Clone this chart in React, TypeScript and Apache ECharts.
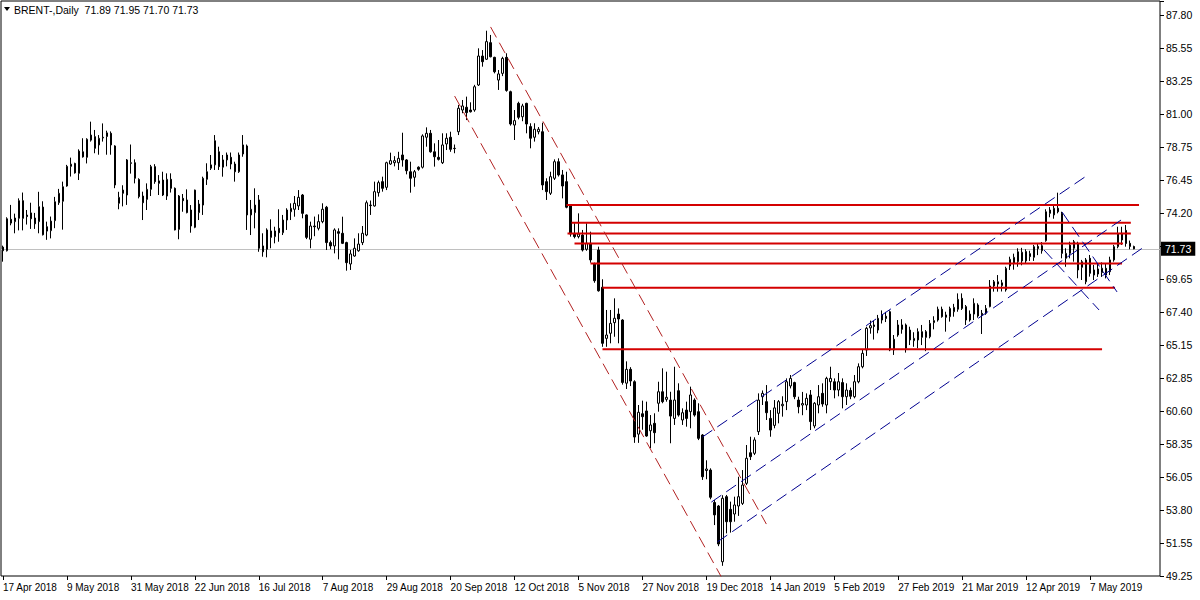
import React, { useEffect, useRef } from "react";
import * as echarts from "echarts";

// ---- Axis labels ----
const DATE_LABELS = [
  "17 Apr 2018", "9 May 2018", "31 May 2018", "22 Jun 2018", "16 Jul 2018", "7 Aug 2018",
  "29 Aug 2018", "20 Sep 2018", "12 Oct 2018", "5 Nov 2018", "27 Nov 2018", "19 Dec 2018",
  "14 Jan 2019", "5 Feb 2019", "27 Feb 2019", "21 Mar 2019", "12 Apr 2019", "7 May 2019",
];
const LABEL_EVERY = 16; // one date label every 16 bars
const SLOT_COUNT = 290; // bars + empty right shift

const PRICE_LABELS = [
  "49.25", "51.55", "53.80", "56.05", "58.35", "60.60", "62.85", "65.15", "67.40",
  "69.65", "", "74.20", "76.45", "78.75", "81.00", "83.25", "85.55", "87.80",
];
const PRICE_MIN = 49.25;
const PRICE_STEP = 2.267647;
const VISIBLE_STEPS = 17.4242;

const SYMBOL = "BRENT-,Daily";
const CURRENT_PRICE = 71.73;

// ---- Daily candles: [open, high, low, close] ----
const CANDLES: [number, number, number, number][] = [
  [71.85, 71.95, 70.85, 71.6], [71.6, 73.9, 71.55, 73.8], [73.76, 74.75, 73.35, 73.5], [73.6, 74.15, 72.8, 73.85],
  [73.83, 75.2, 73.0, 75.04], [75.04, 75.6, 73.0, 73.83], [74.05, 74.4, 73.4, 73.95], [74.2, 74.9, 73.1, 73.8],
  [73.85, 74.2, 73.1, 73.45], [73.6, 75.65, 72.8, 74.63], [74.6, 75.0, 72.65, 72.7], [73.25, 73.6, 72.35, 72.95],
  [72.98, 73.95, 72.45, 73.64], [73.67, 75.3, 73.15, 74.97], [74.9, 75.85, 74.75, 75.55], [75.0, 76.35, 73.05, 76.0],
  [76.05, 77.5, 76.0, 77.4], [77.4, 78.0, 76.7, 77.55], [77.6, 77.65, 76.9, 76.95], [76.92, 78.57, 76.46, 78.45],
  [78.4, 79.33, 78.0, 78.05], [78.02, 79.33, 77.6, 79.26], [79.2, 80.47, 79.1, 79.55], [79.44, 79.9, 78.3, 78.64],
  [78.87, 79.55, 78.2, 79.33], [79.35, 80.35, 79.1, 79.4], [79.45, 79.85, 78.2, 79.7], [79.67, 79.8, 78.2, 78.87],
  [78.8, 78.85, 75.9, 76.12], [74.86, 75.65, 74.45, 75.27], [75.77, 76.1, 74.65, 75.55], [75.43, 77.9, 74.75, 77.84],
  [77.6, 78.9, 76.9, 77.65], [77.65, 77.88, 76.23, 76.58], [76.5, 76.58, 75.2, 75.32], [75.36, 75.66, 73.71, 74.9],
  [75.13, 76.23, 74.4, 75.82], [75.82, 77.5, 75.36, 77.38], [77.38, 77.55, 76.2, 76.35], [76.23, 76.8, 75.43, 76.4],
  [76.46, 77.03, 75.36, 75.43], [75.36, 76.92, 75.09, 76.51], [76.51, 76.92, 75.6, 75.89], [75.89, 75.95, 73.0, 73.03],
  [73.07, 75.43, 72.39, 75.36], [75.2, 75.5, 74.28, 75.04], [75.09, 75.82, 74.17, 74.22], [74.4, 74.74, 72.84, 73.3],
  [73.21, 75.8, 73.15, 75.77], [74.22, 75.09, 73.71, 74.81], [74.74, 76.69, 74.06, 76.58], [76.51, 77.61, 76.12, 77.03],
  [77.27, 78.18, 77.15, 77.5], [77.5, 79.55, 77.15, 79.16], [78.4, 78.75, 77.15, 77.38], [77.34, 78.18, 76.69, 77.84],
  [77.84, 78.35, 77.4, 78.18], [78.02, 78.35, 77.2, 77.56], [77.56, 77.72, 76.35, 77.03], [77.03, 78.35, 76.95, 78.18],
  [78.25, 79.55, 78.06, 78.87], [78.8, 78.9, 73.03, 74.06], [74.06, 75.09, 72.68, 74.45], [74.22, 75.89, 73.14, 74.74],
  [75.09, 75.43, 71.53, 71.77], [71.93, 72.8, 71.19, 71.53], [71.7, 73.14, 71.15, 73.03], [72.96, 73.76, 71.77, 72.52],
  [72.57, 73.25, 72.11, 72.96], [73.14, 74.45, 72.22, 72.84], [72.84, 74.06, 72.68, 73.71], [73.71, 74.52, 73.03, 74.4],
  [74.28, 74.86, 73.71, 74.52], [74.45, 75.36, 73.94, 74.86], [74.68, 75.77, 74.4, 75.27], [75.43, 75.5, 73.83, 74.17],
  [74.06, 74.1, 72.4, 72.52], [72.39, 73.6, 71.77, 73.3], [73.3, 73.95, 72.6, 73.25], [73.14, 74.1, 73.0, 73.6],
  [73.6, 74.86, 73.49, 74.45], [74.59, 74.68, 71.65, 72.16], [72.16, 72.3, 71.7, 71.93], [71.93, 73.14, 71.42, 73.03],
  [72.91, 73.14, 71.01, 72.8], [72.8, 73.94, 72.06, 72.11], [72.16, 72.22, 70.23, 70.78], [70.69, 71.65, 70.28, 71.38],
  [71.24, 72.45, 71.19, 71.77], [71.6, 72.8, 71.53, 72.06], [72.16, 73.3, 71.99, 72.8], [72.68, 75.05, 72.6, 74.9],
  [74.74, 75.05, 74.06, 74.7], [74.68, 76.35, 74.63, 75.66], [75.59, 76.42, 75.32, 76.28], [76.35, 76.69, 75.66, 75.89],
  [75.96, 77.72, 75.77, 77.65], [77.56, 78.34, 77.5, 77.79], [77.65, 78.1, 77.4, 77.79], [77.65, 78.4, 77.15, 77.95],
  [78.18, 79.71, 77.38, 77.84], [77.84, 77.9, 76.85, 77.1], [77.03, 77.72, 75.59, 76.58], [76.65, 77.15, 76.0, 77.03],
  [77.34, 77.4, 77.1, 77.2], [77.34, 79.6, 77.25, 79.49], [79.4, 80.08, 78.75, 79.67], [79.67, 79.9, 78.34, 78.4],
  [78.4, 78.98, 77.38, 78.06], [78.02, 79.21, 77.8, 77.88], [77.65, 79.67, 77.56, 78.87], [78.94, 79.67, 78.52, 79.33],
  [79.4, 79.78, 78.4, 78.57], [78.64, 78.9, 78.3, 78.62], [79.78, 81.62, 79.55, 81.39], [81.27, 81.96, 81.05, 81.55],
  [81.46, 82.19, 80.58, 81.09], [81.27, 81.8, 81.1, 81.15], [81.27, 83.0, 81.15, 82.87], [82.99, 85.51, 82.92, 84.98],
  [84.98, 85.39, 84.25, 84.59], [84.76, 86.72, 84.71, 85.97], [85.9, 86.43, 84.89, 84.93], [84.89, 84.93, 83.79, 83.9],
  [83.33, 84.02, 82.65, 83.75], [83.79, 84.93, 83.6, 84.82], [84.89, 85.17, 82.53, 82.62], [82.53, 82.6, 80.2, 80.31],
  [80.24, 81.27, 79.21, 80.54], [81.73, 81.84, 80.63, 80.77], [80.81, 81.7, 80.5, 81.55], [81.73, 81.77, 79.67, 80.31],
  [80.13, 80.36, 78.64, 79.33], [79.4, 80.36, 79.1, 79.95], [79.78, 80.1, 79.6, 79.95], [79.78, 80.4, 75.77, 76.12],
  [76.35, 76.58, 75.09, 75.66], [75.55, 77.03, 75.43, 76.69], [76.58, 77.88, 76.46, 77.72], [77.72, 77.95, 76.7, 76.81],
  [76.81, 77.15, 75.2, 76.05], [76.35, 77.03, 74.52, 74.59], [74.68, 74.74, 72.57, 72.75], [72.75, 73.49, 72.45, 72.57],
  [72.57, 74.17, 72.45, 72.75], [72.68, 73.03, 71.55, 71.65], [71.7, 73.49, 71.6, 72.11], [72.11, 72.91, 70.78, 70.97],
  [70.69, 70.78, 69.4, 69.54], [71.65, 71.88, 68.79, 68.85], [69.09, 69.64, 65.0, 65.24], [65.58, 67.53, 65.0, 65.81],
  [65.93, 67.53, 65.24, 66.61], [66.66, 68.33, 65.69, 66.96], [67.25, 67.64, 65.24, 66.91], [66.84, 66.9, 62.4, 62.55],
  [62.5, 64.0, 62.1, 63.45], [63.45, 63.6, 62.3, 62.65], [62.6, 62.7, 58.4, 58.8], [59.0, 61.0, 58.4, 60.5],
  [60.4, 61.3, 59.3, 60.2], [60.59, 61.23, 58.82, 58.87], [59.23, 60.31, 58.03, 59.63], [59.74, 60.43, 58.37, 59.1],
  [61.12, 62.6, 60.54, 61.91], [61.91, 63.52, 61.12, 61.23], [61.39, 63.29, 61.23, 61.53], [61.34, 61.91, 58.37, 60.24],
  [60.08, 63.63, 59.63, 61.34], [61.98, 62.49, 60.2, 60.31], [59.97, 60.77, 59.63, 60.47], [60.65, 61.23, 59.51, 60.08],
  [60.54, 62.26, 59.4, 61.69], [61.34, 61.46, 60.2, 60.31], [60.54, 61.12, 58.59, 58.71], [58.94, 59.0, 55.85, 56.07],
  [56.5, 57.2, 55.9, 56.6], [56.53, 56.65, 54.52, 54.66], [54.3, 54.47, 52.75, 53.45], [54.06, 54.13, 51.3, 51.45],
  [50.23, 54.8, 49.95, 54.59], [54.7, 54.82, 52.18, 52.98], [53.83, 54.36, 52.23, 52.98], [53.51, 54.7, 52.98, 54.13],
  [54.06, 56.07, 53.38, 54.7], [54.24, 56.53, 54.13, 55.5], [55.62, 58.25, 55.5, 57.34], [57.72, 58.82, 57.22, 57.45],
  [57.68, 58.78, 57.56, 58.6], [59.17, 61.8, 58.94, 61.34], [61.57, 62.0, 61.0, 61.8], [61.23, 62.37, 59.97, 60.47],
  [60.08, 60.65, 58.82, 59.28], [59.6, 61.34, 59.4, 60.8], [60.43, 61.34, 59.74, 61.23], [60.95, 61.6, 60.2, 61.05],
  [61.23, 62.83, 60.65, 62.6], [62.31, 63.06, 62.14, 62.83], [62.54, 62.6, 61.4, 61.57], [61.34, 61.57, 60.43, 60.88],
  [61.0, 61.9, 60.3, 61.1], [61.0, 61.8, 60.65, 61.46], [61.69, 62.03, 59.28, 59.86], [59.56, 61.2, 59.4, 61.12],
  [61.0, 62.37, 60.43, 61.57], [61.8, 62.49, 60.88, 61.07], [61.0, 62.94, 60.43, 62.83], [62.6, 63.63, 62.03, 62.83],
  [62.6, 62.83, 61.46, 62.03], [62.03, 63.2, 61.6, 62.6], [62.54, 62.83, 60.77, 61.57], [61.57, 62.49, 61.0, 62.03],
  [62.0, 62.2, 61.4, 61.6], [61.57, 63.06, 61.46, 62.6], [62.6, 63.86, 62.49, 63.63], [63.63, 64.78, 63.52, 64.55],
  [64.78, 66.38, 64.37, 66.27], [66.3, 66.8, 65.9, 66.45], [66.5, 66.8, 65.5, 66.4], [66.15, 67.19, 65.93, 66.96],
  [66.84, 67.5, 66.6, 67.19], [67.1, 67.4, 66.7, 66.95], [67.41, 67.5, 64.7, 64.78], [64.78, 65.81, 64.44, 65.52],
  [65.81, 66.84, 65.69, 66.5], [66.5, 66.9, 65.9, 66.2], [66.5, 66.6, 64.6, 64.9], [65.47, 66.38, 65.12, 66.15],
  [65.42, 66.0, 65.0, 65.58], [65.47, 66.27, 64.9, 66.04], [65.65, 66.5, 65.12, 66.04], [66.04, 66.15, 64.7, 65.65],
  [65.69, 66.84, 65.58, 66.61], [66.66, 67.1, 66.2, 66.8], [66.84, 67.76, 66.73, 67.58], [67.58, 67.76, 67.0, 67.07],
  [67.19, 67.41, 66.04, 67.03], [67.07, 67.76, 66.73, 67.64], [67.41, 67.95, 67.07, 67.71], [67.58, 68.67, 67.41, 68.26],
  [68.33, 68.67, 67.53, 67.64], [67.76, 67.87, 66.5, 66.84], [66.84, 67.5, 66.73, 67.25], [67.25, 68.33, 66.84, 67.99],
  [67.87, 67.99, 67.0, 67.12], [67.3, 67.53, 65.88, 67.2], [67.3, 67.87, 67.2, 67.64], [67.76, 69.59, 67.71, 69.18],
  [69.18, 69.59, 68.79, 69.47], [69.31, 69.93, 68.79, 69.47], [69.2, 69.6, 68.8, 69.4], [68.91, 70.5, 68.79, 70.39],
  [70.55, 71.19, 70.28, 71.01], [70.74, 71.4, 70.3, 71.15], [70.85, 71.77, 70.5, 71.53], [70.9, 71.8, 70.6, 71.5],
  [70.9, 71.7, 70.7, 71.55], [71.4, 71.6, 70.9, 71.2], [71.15, 72.0, 70.9, 71.88], [71.9, 72.1, 71.3, 71.75],
  [71.6, 72.2, 71.4, 71.95], [72.29, 74.45, 72.22, 74.28], [74.17, 74.6, 73.9, 74.4], [74.06, 74.7, 73.8, 74.52],
  [74.52, 75.59, 74.17, 74.28], [74.17, 74.28, 71.08, 71.42], [71.08, 71.77, 70.5, 71.42], [71.42, 72.22, 71.08, 71.99],
  [71.77, 72.34, 70.85, 72.22], [72.11, 72.22, 69.71, 70.28], [70.46, 70.97, 69.59, 70.85], [69.47, 71.1, 69.3, 70.97],
  [71.08, 71.31, 69.82, 70.05], [69.93, 70.62, 69.59, 70.28], [70.0, 70.7, 69.8, 70.35], [70.1, 70.8, 69.8, 70.4],
  [70.39, 70.7, 69.7, 69.93], [70.16, 71.19, 69.93, 70.97], [70.97, 72.0, 70.85, 71.88], [71.88, 73.25, 71.77, 72.75],
  [72.8, 73.25, 72.0, 72.34], [73.0, 73.37, 71.88, 72.1], [72.11, 72.3, 71.7, 71.9], [71.89, 71.95, 71.7, 71.73],
];

// ---- Drawn objects (bar index, price) ----
// horizontal red levels: [price, fromBar, toBar]
const RED_LEVELS: [number, number, number][] = [
  [74.74, 141, 284.25], [73.53, 142.25, 282.2], [72.79, 141.25, 282.2], [72.1, 143, 280.25],
  [70.72, 147, 280], [69.06, 150, 278.25], [64.83, 150, 275],
];
// falling red dashed channel
const RED_CHANNEL: [number, number][][] = [
  [[122, 86.98], [191, 52.82]],
  [[113, 82.23], [179.75, 49.18]],
];
// rising blue dashed channel
const BLUE_CHANNEL: [number, number][][] = [
  [[175, 58.8], [271.25, 76.77]],
  [[177.25, 54.33], [279.75, 73.71]],
  [[178.75, 51.59], [285.5, 71.86]],
];
// small falling blue lines after the April top
const BLUE_SMALL: [number, number][][] = [
  [[265, 74.26], [278.75, 68.77]],
  [[260.5, 71.65], [274.25, 67.53]],
];

const FONT = "'Liberation Sans', Arial, sans-serif";

export default function App() {
  const ref = useRef<HTMLDivElement>(null);

  useEffect(() => {
    document.body.style.margin = "0";
    const chart = echarts.init(ref.current!, null, { renderer: "svg" });

    const cats = Array.from({ length: SLOT_COUNT }, (_, i) =>
      i % LABEL_EVERY === 0 && i / LABEL_EVERY < DATE_LABELS.length ? DATE_LABELS[i / LABEL_EVERY] : ""
    );
    const showDate = (i: number) => i % LABEL_EVERY === 0 && i / LABEL_EVERY < DATE_LABELS.length;

    const seg = (pts: [number, number][], color: string, width: number, dash: any) => ({
      type: "line",
      xAxisIndex: 1,
      yAxisIndex: 0,
      data: pts,
      symbol: "none",
      silent: true,
      z: 5,
      lineStyle: { color, width, type: dash },
    });

    const last = CANDLES[CANDLES.length - 1];
    const header = `${SYMBOL}  ${last.map((v) => v.toFixed(2)).join(" ")}`;

    const series: any[] = [
      {
        type: "candlestick",
        xAxisIndex: 0,
        yAxisIndex: 0,
        data: CANDLES.map(([o, h, l, c]) => [o, c, l, h]),
        barWidth: 2,
        z: 3,
        itemStyle: {
          color: "#ffffff",
          color0: "#000000",
          borderColor: "#000000",
          borderColor0: "#000000",
          borderWidth: 1,
        },
        markLine: {
          silent: true,
          symbol: ["none", "none"],
          z: 1,
          lineStyle: { color: "#c0c0c0", width: 1, type: "solid" },
          label: {
            position: "end",
            distance: 1,
            formatter: CURRENT_PRICE.toFixed(2),
            color: "#ffffff",
            backgroundColor: "#000000",
            padding: [2, 4, 1, 4],
            fontFamily: FONT,
            fontSize: 10.5,
          },
          data: [{ yAxis: CURRENT_PRICE }],
        },
      },
      ...RED_LEVELS.map(([p, a, b]) => seg([[a, p], [b, p]], "#d40000", 2, "solid")),
      ...RED_CHANNEL.map((l) => seg(l, "#b22222", 1, [12, 6])),
      ...BLUE_CHANNEL.map((l) => seg(l, "#000090", 1, [12, 6])),
      ...BLUE_SMALL.map((l) => seg(l, "#000090", 1, [12, 6])),
    ];

    chart.setOption({
      animation: false,
      backgroundColor: "#ffffff",
      grid: {
        left: 1,
        right: 40,
        top: 1,
        bottom: 24,
        show: true,
        borderColor: "#000000",
        borderWidth: 1,
        backgroundColor: "#ffffff",
      },
      xAxis: [
        {
          type: "category",
          data: cats,
          boundaryGap: true,
          axisLine: { show: false },
          splitLine: { show: false },
          axisTick: {
            show: true,
            length: 4,
            alignWithLabel: true,
            interval: (i: number) => showDate(i),
            lineStyle: { color: "#000" },
          },
          axisLabel: {
            interval: (i: number) => showDate(i),
            align: "left",
            margin: 6,
            color: "#000",
            fontFamily: FONT,
            fontSize: 10,
          },
        },
        {
          type: "value",
          min: -0.5,
          max: SLOT_COUNT - 0.5,
          show: false,
        },
      ],
      yAxis: [
        {
          type: "value",
          min: PRICE_MIN,
          max: PRICE_MIN + PRICE_STEP * VISIBLE_STEPS,
          show: false,
          scale: true,
        },
        {
          type: "value",
          position: "right",
          min: 0,
          max: VISIBLE_STEPS,
          interval: 1,
          axisLine: { show: false },
          splitLine: { show: false },
          axisTick: { show: true, length: 4, lineStyle: { color: "#000" } },
          axisLabel: {
            margin: 6,
            color: "#000",
            fontFamily: FONT,
            fontSize: 10.5,
            formatter: (v: number) =>
              Math.abs(v - Math.round(v)) < 0.001 ? PRICE_LABELS[Math.round(v)] ?? "" : "",
          },
        },
      ],
      graphic: [
        {
          type: "polygon",
          shape: { points: [[4, 7], [10, 7], [7, 11]] },
          style: { fill: "#000" },
        },
        {
          type: "text",
          x: 14,
          y: 4,
          style: {
            text: header,
            fill: "#000",
            font: `10.5px ${FONT}`,
            verticalAlign: "top",
            align: "left",
          },
        },
      ],
      series,
    });

    return () => chart.dispose();
  }, []);

  return <div ref={ref} style={{ width: 1200, height: 600 }} />;
}
